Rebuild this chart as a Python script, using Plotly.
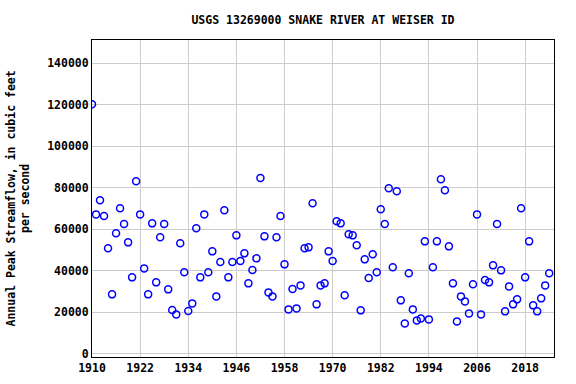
import plotly.graph_objects as go

years = list(range(1910, 2025))
peaks = [
    120200, 67200, 73960, 66400, 50830, 28670, 58060, 70100, 62550, 53720,
    36860, 83110, 67200, 41190, 28670, 62870, 34450, 56130, 62550, 31080,
    21120, 19030, 53240, 39270, 20640, 24330, 60470, 36860, 67200, 39270,
    49380, 27700, 44250, 69140, 36860, 44250, 57090, 44730, 48420, 33970,
    40390, 46010, 84720, 56610, 29630, 27700, 56130, 66400, 43120, 21440,
    31240, 21920, 33000, 50830, 51310, 72510, 23850, 33000, 33970, 49380,
    44730, 63840, 62870, 28190, 57580, 57090, 52280, 20960, 45530, 36540,
    47940, 39270, 69620, 62550, 79740, 41680, 78290, 25780, 14690, 38790,
    21440, 16140, 17100, 54200, 16620, 41680, 54200, 84070, 78770, 51790,
    33970, 15660, 27700, 25290, 19510, 33490, 67200, 19030, 35570, 34450,
    42640, 62550, 40230, 20480, 32520, 23850, 26260, 70100, 36860, 54200,
    23370, 20480, 26740, 33000, 38790,
]
x_ticks = [1910, 1922, 1934, 1946, 1958, 1970, 1982, 1994, 2006, 2018]
y_ticks = [0, 20000, 40000, 60000, 80000, 100000, 120000, 140000]

FONT = "DejaVu Sans Mono"
FS = 11.5

fig = go.Figure()
fig.add_trace(go.Scatter(
    x=years, y=peaks, mode="markers",
    marker=dict(symbol="circle-open", size=7, color="#0000FF",
                line=dict(width=1.5, color="#0000FF")),
    showlegend=False, hoverinfo="x+y",
))

fig.update_layout(
    width=576, height=384,
    margin=dict(l=92, r=22, t=40, b=27, autoexpand=False),
    paper_bgcolor="white", plot_bgcolor="white",
    font=dict(family=FONT, size=FS, color="black", weight="bold"),
    title=dict(text="USGS 13269000 SNAKE RIVER AT WEISER ID",
               x=(92 + 554) / 2 / 576, xanchor="center",
               y=1 - 20 / 384, yanchor="middle",
               font=dict(family=FONT, size=FS, weight="bold")),
    xaxis=dict(range=[1910, 2025.2], tickvals=x_ticks,
               ticktext=[str(v) for v in x_ticks],
               showgrid=True, gridcolor="#cccccc", gridwidth=1,
               showline=True, linecolor="black", linewidth=1, mirror=True,
               zeroline=False, ticks="", ticklen=0, automargin=False,
               tickfont=dict(family=FONT, size=FS, weight="bold")),
    yaxis=dict(range=[-1500, 151200], tickvals=y_ticks,
               ticktext=[str(v) for v in y_ticks],
               showgrid=True, gridcolor="#cccccc", gridwidth=1,
               showline=True, linecolor="black", linewidth=1, mirror=True,
               zeroline=False, ticks="", ticklen=0, automargin=False,
               tickfont=dict(family=FONT, size=FS, weight="bold")),
    annotations=[dict(
        text="Annual Peak Streamflow, in cubic feet<br>per second",
        xref="paper", yref="paper",
        x=-(92 - 18) / 462, y=0.5, xanchor="center", yanchor="middle",
        textangle=-90, showarrow=False, align="center",
        font=dict(family=FONT, size=FS, weight="bold"),
    )],
)

fig.write_html("out.html", config={"displayModeBar": False},
               post_script="document.body.style.margin='0';")
